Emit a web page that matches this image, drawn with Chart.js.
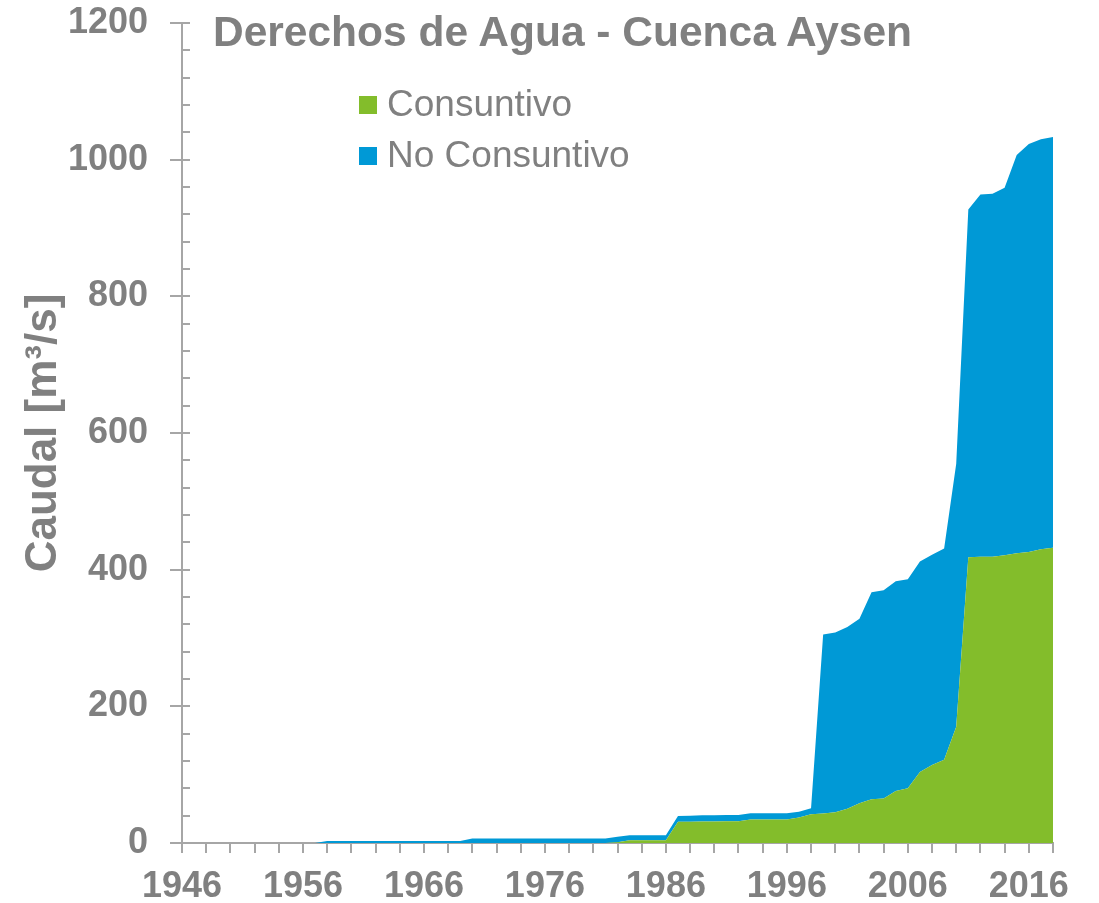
<!DOCTYPE html>
<html lang="es">
<head>
<meta charset="utf-8">
<title>Derechos de Agua - Cuenca Aysen</title>
<script src="https://cdn.jsdelivr.net/npm/chart.js@4.4.1/dist/chart.umd.min.js"></script>
<style>
  html, body { margin: 0; padding: 0; background: #fff; }
  #wrap { position: relative; width: 1099px; height: 903px; }
  #chart { position: absolute; left: 0; top: 0; }
  .title {
    position: absolute; left: 0; top: 11px; width: 1125px;
    text-align: center; white-space: nowrap;
    font: bold 42.5px/42px 'Liberation Sans', Arial, sans-serif; color: #808080;
  }
  .lg-row {
    position: absolute; left: 359px; height: 37px; white-space: nowrap;
    font: 37px/37px 'Liberation Sans', Arial, sans-serif; color: #808080;
  }
  .lg-box { position: absolute; left: 0; top: 11px; width: 18px; height: 18px; }
  .lg-text { position: absolute; left: 28px; top: 0; }
</style>
</head>
<body>
<div id="wrap">
  <canvas id="chart" width="1099" height="903"></canvas>
  <div class="title">Derechos de Agua - Cuenca Aysen</div>
  <div id="legend"></div>
</div>
<script>
// ── Data ──────────────────────────────────────────────────────
const years = [
  1946, 1947, 1948, 1949, 1950, 1951, 1952, 1953, 1954, 1955,
  1956, 1957, 1958, 1959, 1960, 1961, 1962, 1963, 1964, 1965,
  1966, 1967, 1968, 1969, 1970, 1971, 1972, 1973, 1974, 1975,
  1976, 1977, 1978, 1979, 1980, 1981, 1982, 1983, 1984, 1985,
  1986, 1987, 1988, 1989, 1990, 1991, 1992, 1993, 1994, 1995,
  1996, 1997, 1998, 1999, 2000, 2001, 2002, 2003, 2004, 2005,
  2006, 2007, 2008, 2009, 2010, 2011, 2012, 2013, 2014, 2015,
  2016, 2017, 2018
];

// m3/s, consumptive rights (green, bottom layer)
const consuntivo = [
  0, 0, 0, 0, 0, 0, 0, 0, 0, 0,
  0, 0, 0, 0, 0, 0, 0, 0, 0, 0,
  0, 0, 0, 0, 0, 0, 0, 0, 0, 0,
  0, 0, 0, 0, 0, 0, 1, 4, 4, 4,
  4, 31, 31, 31.5, 31.5, 32, 32, 34.5, 34.5, 34.5,
  34.5, 37.5, 42, 43, 45, 50, 58, 64, 65, 76,
  80, 104, 114, 122, 170, 418, 419, 419, 421, 424,
  426, 430, 432
];

// m3/s, non-consumptive rights (blue, stacked on top)
const noConsuntivo = [
  0, 0, 0, 0, 0, 0, 0, 0, 0, 0,
  0, 0, 3, 3, 3, 3, 3, 3, 3, 3,
  3, 3, 3, 3, 6.5, 6.5, 6.5, 6.5, 6.5, 6.5,
  6.5, 6.5, 6.5, 6.5, 6.5, 6.5, 8, 7.5, 7.5, 7.5,
  7.5, 8.5, 9, 9, 9, 9, 9, 9, 9, 9,
  9, 8.3, 8.7, 262, 263, 266, 270, 303, 305, 307,
  306, 308, 308, 309, 385, 509, 530, 531, 538, 583,
  597, 600, 601
];

const xLabelYears = [1946, 1956, 1966, 1976, 1986, 1996, 2006, 2016];
const seriesNames = ['Consuntivo', 'No Consuntivo'];
const seriesColors = ['#83bd2b', '#0099d6'];

// ── Style ─────────────────────────────────────────────────────
const FONT = "'Liberation Sans', Arial, sans-serif";
const TEXT_GRAY = '#808080';
const AXIS_GRAY = '#a6a6a6';

const toPoints = vals => years.map((yr, i) => ({ x: yr, y: vals[i] }));

// small inside ticks on the value axis (every 40, majors cross the axis)
const minorTicks = {
  id: 'minorTicks',
  afterDraw(chart) {
    const { ctx, chartArea, scales: { y } } = chart;
    ctx.save();
    ctx.strokeStyle = AXIS_GRAY;
    ctx.lineWidth = 2;
    for (let v = y.min; v <= y.max; v += 40) {
      const py = Math.round(y.getPixelForValue(v));
      ctx.beginPath();
      ctx.moveTo(chartArea.left, py);
      ctx.lineTo(chartArea.left + 8, py);
      ctx.stroke();
    }
    ctx.restore();
  }
};

const chart = new Chart(document.getElementById('chart'), {
  type: 'line',
  data: {
    datasets: [
      {
        label: seriesNames[0],
        data: toPoints(consuntivo),
        backgroundColor: seriesColors[0],
        borderColor: seriesColors[0],
        borderWidth: 0,
        pointRadius: 0,
        tension: 0,
        fill: 'origin',
      },
      {
        label: seriesNames[1],
        data: toPoints(noConsuntivo),
        backgroundColor: seriesColors[1],
        borderColor: seriesColors[1],
        borderWidth: 0,
        pointRadius: 0,
        tension: 0,
        fill: '-1',
      },
    ],
  },
  options: {
    responsive: false,
    devicePixelRatio: 1,
    animation: false,
    layout: { padding: { top: 23, right: 46, left: 0, bottom: 0 } },
    plugins: {
      legend: { display: false },
      tooltip: { enabled: false },
    },
    scales: {
      x: {
        type: 'linear',
        min: 1946,
        max: 2018,
        afterFit: s => { s.height = 60; },
        border: { color: AXIS_GRAY, width: 2 },
        grid: { drawOnChartArea: false, tickLength: 10, color: AXIS_GRAY, lineWidth: 2 },
        ticks: {
          stepSize: 2,
          autoSkip: false,
          maxRotation: 0,
          minRotation: 0,
          padding: 12,
          color: TEXT_GRAY,
          font: { family: FONT, size: 36, weight: 'bold' },
          callback: v => xLabelYears.includes(v) ? String(v) : '',
        },
      },
      y: {
        stacked: true,
        min: 0,
        max: 1200,
        // fixed width, and no extra room above the top label
        afterFit: s => { s.width = 182; s.paddingTop = 0; s.paddingBottom = 0; },
        border: { color: AXIS_GRAY, width: 2 },
        grid: { drawOnChartArea: false, tickLength: 12, color: AXIS_GRAY, lineWidth: 2 },
        ticks: {
          stepSize: 200,
          padding: 22,
          color: TEXT_GRAY,
          font: { family: FONT, size: 36, weight: 'bold' },
          callback: v => String(v),
        },
        title: {
          display: true,
          text: 'Caudal [m³/s]',
          color: TEXT_GRAY,
          font: { family: FONT, size: 44, weight: 'bold' },
          padding: { top: 17, bottom: 0 },
        },
      },
    },
  },
  plugins: [minorTicks],
});

// ── Legend overlay, built from the datasets ───────────────────
const legendEl = document.getElementById('legend');
chart.data.datasets.forEach((ds, i) => {
  const row = document.createElement('div');
  row.className = 'lg-row';
  row.style.top = (85 + i * 50.6) + 'px';
  const box = document.createElement('span');
  box.className = 'lg-box';
  box.style.background = ds.backgroundColor;
  const txt = document.createElement('span');
  txt.className = 'lg-text';
  txt.textContent = ds.label;
  row.appendChild(box);
  row.appendChild(txt);
  legendEl.appendChild(row);
});
</script>
</body>
</html>
